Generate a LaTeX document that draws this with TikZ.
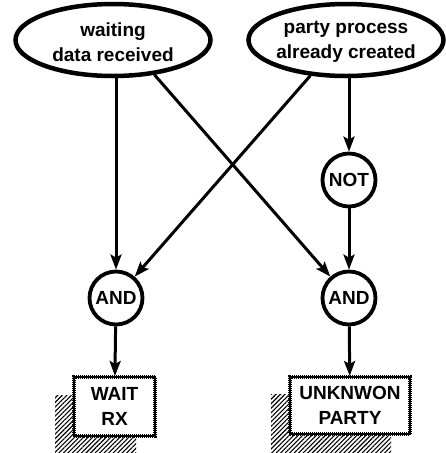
\documentclass[tikz,border=0pt]{standalone}
\usepackage{fontspec}
\setmainfont{Liberation Sans}
\usetikzlibrary{arrows.meta,patterns.meta,shapes.geometric}
\begin{document}
\begin{tikzpicture}[x=1pt,y=-1pt,
  txt/.style={font=\fontsize{19}{25}\selectfont\bfseries},
  cond/.style={ellipse,draw,line width=4.5pt,minimum width=195pt,minimum height=72pt,inner sep=0pt},
  lbl/.style={align=center,inner sep=0pt,txt},
  gate/.style={circle,draw,line width=3.8pt,minimum size=53pt,inner sep=0pt,txt},
  act/.style={rectangle,draw,line width=2pt,fill=white,align=center,inner sep=0pt,txt,
    postaction={draw,line width=3.6pt,dash pattern=on 1pt off 1pt}},
  shade/.style={pattern={Lines[angle=45,distance=3.2pt,line width=1.1pt]}},
  arr/.style={line width=3pt,-{Stealth[length=15pt,width=11pt,inset=3pt]}}
]
\useasboundingbox (0,0) rectangle (445,453);
% shadows
\path[shade] (55,395) rectangle (136,453);
\path[shade] (271,394) rectangle (391,453);
% nodes
\node[cond] (wait) at (113,40) {};
\node[lbl] (waitlbl) at (113,42) {waiting\\data received};
\node[cond] (party) at (346,40) {};
\node[lbl] (partylbl) at (346,42) {party process\\already created};
\node[gate] (not) at (349,180) {NOT};
\node[gate] (and1) at (116,298) {AND};
\node[gate] (and2) at (349,298) {AND};
\node[act,minimum width=81pt,minimum height=59pt] (waitrx) at (114.5,406.5) {WAIT\\RX};
\node[act,minimum width=120pt,minimum height=57pt] (unk) at (350,405.5) {UNKNWON\\PARTY};
% connectors
\draw[arr] (and1 |- wait.south) -- (and1);
\draw[arr] (wait.-40) -- (and2);
\draw[arr] (party.-135) -- (and1);
\draw[arr] (not |- party.south) -- (not);
\draw[arr] (not) -- (and2);
\draw[arr] (and1) -- (waitrx);
\draw[arr] (and2) -- (unk);
\end{tikzpicture}
\end{document}
